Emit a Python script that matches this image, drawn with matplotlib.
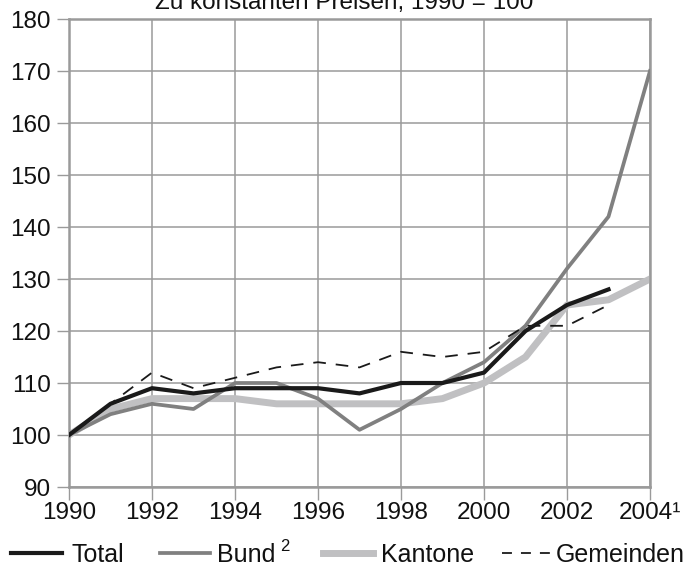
import matplotlib.pyplot as plt
from matplotlib.lines import Line2D

plt.rcParams['font.family'] = ['Liberation Sans', 'DejaVu Sans']

years = list(range(1990, 2005))
total = [100, 106, 109, 108, 109, 109, 109, 108, 110, 110, 112, 120, 125, 128]
bund = [100, 104, 106, 105, 110, 110, 107, 101, 105, 110, 114, 121, 132, 142, 170]
kantone = [100, 105, 107, 107, 107, 106, 106, 106, 106, 107, 110, 115, 125, 126, 130]
gemeinden = [100, 106, 112, 109, 111, 113, 114, 113, 116, 115, 116, 121, 121, 125]

xticks = [1990, 1992, 1994, 1996, 1998, 2000, 2002, 2004]
xticklabels = ['1990', '1992', '1994', '1996', '1998', '2000', '2002', '2004\u00b9']
yticks = list(range(90, 190, 10))

W, H = 688, 562
grid_col = '#9a9a9a'
txt_col = '#111111'
fs = 17.5

styles = {
    'Total': dict(color='#1a1a1a', lw=3.0, zorder=4),
    'Bund': dict(color='#808080', lw=2.7, zorder=3),
    'Kantone': dict(color='#c0c0c2', lw=5.0, zorder=2),
    'Gemeinden': dict(color='#1a1a1a', lw=1.3, dashes=(7, 5.5), zorder=5),
}

fig = plt.figure(figsize=(W / 100, H / 100), dpi=100)
ax = fig.add_axes([69 / W, 1 - 487 / H, 581 / W, 468 / H])

ax.plot(years[:len(total)], total, **styles['Total'])
ax.plot(years, bund, **styles['Bund'])
ax.plot(years, kantone, **styles['Kantone'])
ax.plot(years[:len(gemeinden)], gemeinden, **styles['Gemeinden'])

ax.set_xlim(1990, 2004)
ax.set_ylim(90, 180)
ax.set_xticks(xticks)
ax.set_xticklabels(xticklabels)
ax.set_yticks(yticks)
ax.grid(True, color=grid_col, lw=1.1)
ax.set_axisbelow(True)
for s in ax.spines.values():
    s.set_color(grid_col)
    s.set_linewidth(1.8)
ax.tick_params(axis='both', length=9, width=1.0, color=grid_col,
               labelsize=fs, labelcolor=txt_col)
ax.tick_params(axis='x', pad=2)
ax.tick_params(axis='y', pad=4)

fig.text(0.5, 1 - 9 / H, 'Zu konstanten Preisen, 1990 = 100',
         ha='center', va='baseline', fontsize=fs, color=txt_col)

# legend drawn by hand so the uneven spacing of the original is kept
leg_y = 1 - 553 / H
entries = [('Total', 11, 62, 71), ('Bund', 160, 210, 217),
           ('Kantone', 323, 373, 381), ('Gemeinden', 502, 550, 556)]
for name, x0, x1, xt in entries:
    st = {k: v for k, v in styles[name].items() if k != 'zorder'}
    if name == 'Gemeinden':
        st['dashes'] = (5.5, 5)
    fig.add_artist(Line2D([x0 / W, x1 / W], [leg_y, leg_y],
                          transform=fig.transFigure, **st))
    fig.text(xt / W, leg_y, name, ha='left', va='center_baseline',
             fontsize=18, color=txt_col)
fig.text(280 / W, leg_y + 8 / H, '2', ha='left', va='center_baseline',
         fontsize=12, color=txt_col)

fig.savefig('out.png', dpi=100)
